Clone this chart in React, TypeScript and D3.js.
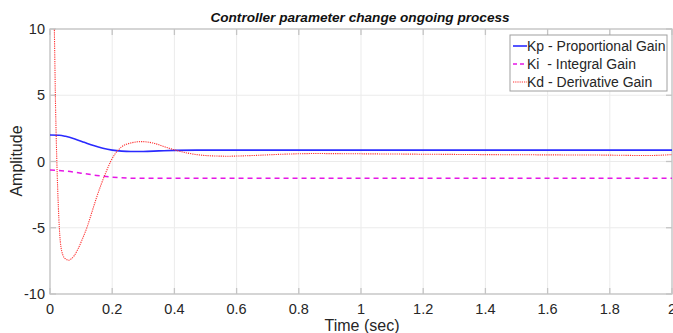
import React, { useRef, useEffect } from "react";
import * as d3 from "d3";

// time (sec) and gains
const kpTime = [0, 0.03, 0.05, 0.08, 0.11, 0.14, 0.17, 0.2, 0.23, 0.26, 0.3, 0.35, 0.4, 0.5, 0.7, 1.0, 1.5, 2.0];
const kpValue = [2.0, 1.98, 1.9, 1.7, 1.45, 1.2, 1.0, 0.86, 0.78, 0.75, 0.76, 0.8, 0.84, 0.86, 0.86, 0.86, 0.86, 0.86];

const kiTime = [0, 0.05, 0.1, 0.15, 0.2, 0.25, 0.3, 0.4, 0.7, 1.0, 1.5, 2.0];
const kiValue = [-0.65, -0.72, -0.88, -1.05, -1.18, -1.25, -1.27, -1.27, -1.27, -1.27, -1.27, -1.27];

const kdTime = [0, 0.008, 0.014, 0.018, 0.022, 0.027, 0.033, 0.042, 0.05, 0.059, 0.068, 0.078, 0.09, 0.105, 0.12, 0.135, 0.15, 0.165, 0.18, 0.195, 0.21, 0.23, 0.26, 0.295, 0.33, 0.37, 0.4, 0.45, 0.5, 0.57, 0.65, 0.75, 0.85, 1.0, 1.2, 1.4, 1.6, 1.8, 1.92, 2.0];
const kdValue = [30, 18, 10, 4, 0, -3.5, -6, -7.1, -7.35, -7.45, -7.35, -7.1, -6.6, -5.8, -4.9, -3.8, -2.7, -1.7, -0.8, 0, 0.6, 1.1, 1.4, 1.5, 1.4, 1.1, 0.88, 0.6, 0.45, 0.4, 0.45, 0.55, 0.6, 0.58, 0.55, 0.52, 0.5, 0.48, 0.45, 0.52];

const xTicks = [0, 0.2, 0.4, 0.6, 0.8, 1, 1.2, 1.4, 1.6, 1.8, 2];
const yTicks = [-10, -5, 0, 5, 10];

const legendLabels = ["Kp - Proportional Gain", "Ki  - Integral Gain", "Kd - Derivative Gain"];

export default function App() {
    const ref = useRef(null);

    useEffect(() => {
        const svg = d3.select(ref.current);
        svg.selectAll("*").remove();

        const left = 50, right = 672, top = 29, bottom = 294;
        const x = d3.scaleLinear().domain([0, 2]).range([left, right]);
        const y = d3.scaleLinear().domain([-10, 10]).range([bottom, top]);
        const font = "Arial, 'Liberation Sans', sans-serif";
        const axisColor = "#c4c4c4";
        const textColor = "#262626";

        svg.append("defs").append("clipPath").attr("id", "plotClip")
            .append("rect").attr("x", left).attr("y", top)
            .attr("width", right - left).attr("height", bottom - top);

        // grid
        const grid = svg.append("g").attr("stroke", "#ebebeb").attr("stroke-width", 1);
        xTicks.forEach((t) => {
            grid.append("line").attr("x1", x(t)).attr("x2", x(t)).attr("y1", top).attr("y2", bottom);
        });
        yTicks.forEach((t) => {
            grid.append("line").attr("x1", left).attr("x2", right).attr("y1", y(t)).attr("y2", y(t));
        });

        // box
        svg.append("rect")
            .attr("x", left).attr("y", top)
            .attr("width", right - left).attr("height", bottom - top)
            .attr("fill", "none").attr("stroke", axisColor).attr("stroke-width", 1.3);

        // ticks inside, on all four sides
        const ticks = svg.append("g").attr("stroke", axisColor).attr("stroke-width", 1.3);
        xTicks.forEach((t) => {
            ticks.append("line").attr("x1", x(t)).attr("x2", x(t)).attr("y1", bottom).attr("y2", bottom - 6);
            ticks.append("line").attr("x1", x(t)).attr("x2", x(t)).attr("y1", top).attr("y2", top + 6);
        });
        yTicks.forEach((t) => {
            ticks.append("line").attr("x1", left).attr("x2", left + 6).attr("y1", y(t)).attr("y2", y(t));
            ticks.append("line").attr("x1", right).attr("x2", right - 6).attr("y1", y(t)).attr("y2", y(t));
        });

        // tick labels
        svg.append("g").selectAll("text").data(xTicks).enter().append("text")
            .attr("x", (d) => x(d)).attr("y", 314)
            .attr("text-anchor", "middle")
            .style("font-family", font).style("font-size", "14.5px").style("fill", textColor)
            .text((d) => String(d));
        svg.append("g").selectAll("text").data(yTicks).enter().append("text")
            .attr("x", 45).attr("y", (d) => y(d) + 5)
            .attr("text-anchor", "end")
            .style("font-family", font).style("font-size", "14.5px").style("fill", textColor)
            .text((d) => String(d));

        // lines
        const plot = svg.append("g").attr("clip-path", "url(#plotClip)");
        const makeLine = (ts, vs) =>
            d3.line().x((d, i) => x(ts[i])).y((d) => y(d)).curve(d3.curveMonotoneX)(vs);

        plot.append("path").attr("d", makeLine(kiTime, kiValue))
            .attr("fill", "none").attr("stroke", "#e617e6").attr("stroke-width", 1.5)
            .attr("stroke-dasharray", "5 4");
        plot.append("path").attr("d", makeLine(kpTime, kpValue))
            .attr("fill", "none").attr("stroke", "#2a2aff").attr("stroke-width", 1.6);
        plot.append("path").attr("d", makeLine(kdTime, kdValue))
            .attr("fill", "none").attr("stroke", "#ff3030").attr("stroke-width", 1.1)
            .attr("stroke-dasharray", "1.2 1");

        // title and axis labels
        svg.append("text").attr("x", 360).attr("y", 22).attr("text-anchor", "middle")
            .style("font-family", font).style("font-size", "13.6px")
            .style("font-weight", "bold").style("font-style", "italic").style("fill", "#111")
            .text("Controller parameter change ongoing process");
        svg.append("text").attr("x", 362).attr("y", 331).attr("text-anchor", "middle")
            .style("font-family", font).style("font-size", "16px").style("fill", textColor)
            .text("Time (sec)");
        svg.append("text").attr("transform", "translate(22,161) rotate(-90)").attr("text-anchor", "middle")
            .style("font-family", font).style("font-size", "16px").style("fill", textColor)
            .text("Amplitude");

        // legend
        const lg = svg.append("g");
        lg.append("rect").attr("x", 510).attr("y", 35).attr("width", 157).attr("height", 56)
            .attr("fill", "#fff").attr("stroke", "#a0a0a0").attr("stroke-width", 1);
        const styles = [
            { color: "#2a2aff", dash: null, w: 1.6 },
            { color: "#e617e6", dash: "4 3", w: 1.5 },
            { color: "#ff3030", dash: "1.2 1", w: 1.1 },
        ];
        legendLabels.forEach((label, i) => {
            const ly = 46 + i * 18;
            const l = lg.append("line").attr("x1", 513).attr("x2", 527).attr("y1", ly).attr("y2", ly)
                .attr("stroke", styles[i].color).attr("stroke-width", styles[i].w);
            if (styles[i].dash) l.attr("stroke-dasharray", styles[i].dash);
            lg.append("text").attr("x", 527).attr("y", ly + 5)
                .style("font-family", font).style("font-size", "14px").style("fill", textColor)
                .style("white-space", "pre")
                .text(label);
        });
    }, []);

    return (
        <div>
            <svg ref={ref} width="673" height="333" style={{ position: "absolute", left: 0, top: 0 }}></svg>
        </div>
    );
}
